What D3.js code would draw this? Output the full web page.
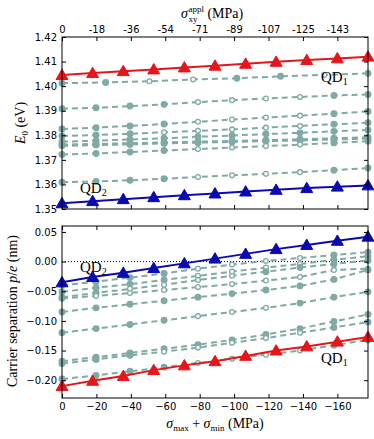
<!DOCTYPE html>
<html>
<head>
<meta charset="utf-8">
<script src="https://cdn.jsdelivr.net/npm/d3@7"></script>
<style>
  body { margin: 0; background: #fff; }
  svg text { font-family: "DejaVu Sans", sans-serif; }
  .math { font-family: "Liberation Serif", serif; }
</style>
</head>
<body>
<div id="chart"></div>
<script>
// stress sampling (MPa) for the different series lengths
const stress11 = [0, -17.8, -35.6, -53.3, -71.1, -88.9, -106.7, -124.4, -142.2, -160, -177.8];
const stress10 = [0, -19.8, -39.5, -59.3, -79, -98.8, -118.5, -138.3, -158, -177.8];
const stress8 = [0, -25.4, -50.8, -76.2, -101.6, -127, -152.4, -177.8];

// top axis: same positions as bottom ticks, relabelled as sigma_xy
const bottomTicks = [0, -20, -40, -60, -80, -100, -120, -140, -160];
const topTickLabels = ['0', '-18', '-36', '-54', '-71', '-89', '-107', '-125', '-143'];

// ground state energies (eV)
const qd1Energy = [1.4045, 1.4053, 1.4061, 1.4068, 1.4076, 1.4083, 1.4091, 1.4099, 1.4106, 1.4113, 1.4120];
const qd2Energy = [1.3523, 1.3532, 1.3540, 1.3548, 1.3556, 1.3563, 1.3571, 1.3578, 1.3585, 1.3591, 1.3596];

// other dots (grey, dashed)
const otherEnergy = [
  [1.4012, 1.4015, 1.4020, 1.4027, 1.4032, 1.4040, 1.4046, 1.4052],
  [1.3908, 1.3912, 1.3919, 1.3926, 1.3935, 1.3943, 1.3950, 1.3956, 1.3962, 1.3966],
  [1.3826, 1.3831, 1.3838, 1.3846, 1.3855, 1.3864, 1.3872, 1.3880, 1.3888, 1.3897],
  [1.3797, 1.3801, 1.3806, 1.3812, 1.3818, 1.3824, 1.3831, 1.3838, 1.3845, 1.3851],
  [1.3774, 1.3778, 1.3783, 1.3788, 1.3794, 1.3799, 1.3805, 1.3810, 1.3816, 1.3822],
  [1.3762, 1.3765, 1.3768, 1.3771, 1.3774, 1.3777, 1.3780, 1.3784, 1.3788, 1.3792],
  [1.3757, 1.3760, 1.3763, 1.3767, 1.3770, 1.3773, 1.3776, 1.3779, 1.3783, 1.3786],
  [1.3722, 1.3726, 1.3732, 1.3738, 1.3744, 1.3750, 1.3756, 1.3762, 1.3769, 1.3776],
  [1.3609, 1.3612, 1.3617, 1.3623, 1.3630, 1.3637, 1.3643, 1.3650, 1.3658, 1.3667]
];
const otherEnergyFill = ['FFOOFFOF', 'FFFFOOOOFF', 'FFFFOOOOFF', 'FFFOOOOOFF', 'FFFFFFFFFF',
  'FFFFFFFFFF', 'FFFFFFFFFF', 'FFFFOOOOFF', 'FFFFOOOOFF'];

// carrier separation p/e (nm)
const qd1Sep = [-0.210, -0.201, -0.193, -0.183, -0.175, -0.168, -0.159, -0.150, -0.143, -0.135, -0.127];
const qd2Sep = [-0.035, -0.026, -0.019, -0.011, -0.003, 0.005, 0.013, 0.021, 0.028, 0.035, 0.042];

const otherSep = [
  [-0.040, -0.034, -0.027, -0.020, -0.012, -0.005, 0.001, 0.006, 0.011, 0.016],
  [-0.051, -0.044, -0.038, -0.031, -0.024, -0.017, -0.010, -0.004, 0.003, 0.009],
  [-0.060, -0.053, -0.046, -0.039, -0.031, -0.024, -0.017, -0.010, -0.004, 0.002],
  [-0.062, -0.058, -0.053, -0.048, -0.043, -0.038, -0.032, -0.026, -0.014, -0.012],
  [-0.085, -0.078, -0.072, -0.066, -0.060, -0.054, -0.048, -0.041, -0.030, -0.014],
  [-0.120, -0.113, -0.106, -0.099, -0.092, -0.085, -0.078, -0.070, -0.060, -0.051],
  [-0.168, -0.161, -0.154, -0.147, -0.140, -0.132, -0.123, -0.113, -0.101, -0.089],
  [-0.172, -0.165, -0.158, -0.152, -0.145, -0.137, -0.129, -0.120, -0.111, -0.102],
  [-0.198, -0.192, -0.185, -0.178, -0.171, -0.164, -0.157, -0.150, -0.141, -0.132]
];
const otherSepFill = ['FFFFOOOOFF', 'FFFFOOOOFF', 'FFOOOOFFFF', 'FOOOOOOOOO', 'FFFFFFFFFF',
  'FFFFOOOFFF', 'FFFFFFFFFF', 'FFFOOOOOFF', 'FFFFOOOOFF'];

const stressFor = { 8: stress8, 10: stress10, 11: stress11 };

const w = 374;
const h = 439;
const left = 62, right = 368;
const topPanel = { top: 37, bottom: 209 };
const botPanel = { top: 226, bottom: 398 };

const red = '#e5161b';
const blue = '#0a0ab0';
const grey = '#80aaa6';

const svg = d3.select('#chart')
  .append('svg')
  .attr('width', w)
  .attr('height', h);

const xScale = d3.scaleLinear()
  .domain([0, -177.8])
  .range([left, right]);

const yTop = d3.scaleLinear()
  .domain([1.35, 1.42])
  .range([topPanel.bottom, topPanel.top]);

const yBot = d3.scaleLinear()
  .domain([-0.23, 0.06])
  .range([botPanel.bottom, botPanel.top]);

function drawFrame(panel, yScale, yTicks, yFormat, topLabels, bottomLabels) {
  const g = svg.append('g');

  const yAxis = d3.axisLeft(yScale).tickValues(yTicks).tickFormat(yFormat)
    .tickSize(-4).tickPadding(5);
  g.append('g').attr('transform', `translate(${left},0)`).call(yAxis);

  g.append('g').attr('transform', `translate(${right},0)`)
    .call(d3.axisRight(yScale).tickValues(yTicks).tickFormat('').tickSize(-4));

  const topAxis = d3.axisTop(xScale).tickValues(bottomTicks).tickSize(-4).tickPadding(4)
    .tickFormat((d, i) => topLabels ? topLabels[i] : '');
  g.append('g').attr('transform', `translate(0,${panel.top})`).call(topAxis);

  const botAxis = d3.axisBottom(xScale).tickValues(bottomTicks).tickSize(-4).tickPadding(5)
    .tickFormat(bottomLabels ? d3.format('d') : '');
  g.append('g').attr('transform', `translate(0,${panel.bottom})`).call(botAxis);

  g.selectAll('.domain').remove();
  g.selectAll('.tick line').attr('stroke', '#000').attr('stroke-width', 1);
  g.selectAll('.tick text').attr('font-size', 10).attr('fill', '#000')
    .style('font-family', '"DejaVu Sans", sans-serif');

  g.append('rect')
    .attr('x', left).attr('y', panel.top)
    .attr('width', right - left).attr('height', panel.bottom - panel.top)
    .attr('fill', 'none').attr('stroke', '#000').attr('stroke-width', 1);
}

function drawOthers(series, fills, yScale) {
  series.forEach((vals, i) => {
    const xs = stressFor[vals.length];
    const pts = vals.map((v, k) => ({ x: xs[k], y: v, f: fills[i][k] === 'F' }));
    const line = d3.line().x(d => xScale(d.x)).y(d => yScale(d.y));
    svg.append('path')
      .datum(pts)
      .attr('d', line)
      .attr('fill', 'none')
      .attr('stroke', grey)
      .attr('stroke-width', 2)
      .attr('stroke-dasharray', '6,4');
    svg.selectAll(null)
      .data(pts)
      .enter()
      .append('circle')
      .attr('cx', d => xScale(d.x))
      .attr('cy', d => yScale(d.y))
      .attr('r', d => d.f ? 2.8 : 2.4)
      .attr('fill', d => d.f ? grey : '#fff')
      .attr('stroke', grey)
      .attr('stroke-width', 1.3);
  });
}

function drawMain(vals, colour, yScale) {
  const pts = vals.map((v, k) => ({ x: stress11[k], y: v }));
  svg.append('path')
    .datum(pts)
    .attr('d', d3.line().x(d => xScale(d.x)).y(d => yScale(d.y)))
    .attr('fill', 'none')
    .attr('stroke', colour)
    .attr('stroke-width', 2);
  svg.selectAll(null)
    .data(pts)
    .enter()
    .append('path')
    .attr('d', d3.symbol(d3.symbolTriangle).size(62))
    .attr('transform', d => `translate(${xScale(d.x)},${yScale(d.y) + 1})`)
    .attr('fill', colour)
    .attr('stroke', colour)
    .attr('stroke-width', 1);
}

// ---- top panel ----
drawOthers(otherEnergy, otherEnergyFill, yTop);
drawMain(qd1Energy, red, yTop);
drawMain(qd2Energy, blue, yTop);

// ---- bottom panel ----
svg.append('line')
  .attr('x1', left).attr('x2', right)
  .attr('y1', yBot(0)).attr('y2', yBot(0))
  .attr('stroke', '#000').attr('stroke-width', 1)
  .attr('stroke-dasharray', '1,2');
drawOthers(otherSep, otherSepFill, yBot);
drawMain(qd1Sep, red, yBot);
drawMain(qd2Sep, blue, yBot);

drawFrame(topPanel, yTop, d3.range(1.35, 1.4201, 0.01), d3.format('.2f'), topTickLabels, false);
drawFrame(botPanel, yBot, [-0.20, -0.15, -0.10, -0.05, 0, 0.05], d3.format('.2f'), null, true);

// ---- labels ----
function qdLabel(x, y, sub) {
  const t = svg.append('text').attr('class', 'math').attr('x', x).attr('y', y)
    .attr('font-size', 15).attr('fill', '#000');
  t.append('tspan').text('QD');
  t.append('tspan').attr('font-size', 10).attr('dy', 3).text(sub);
}
qdLabel(321, 82, '1');
qdLabel(80, 193, '2');
qdLabel(80, 272, '2');
qdLabel(321, 363, '1');

// y label, top
const yl1 = svg.append('text').attr('class', 'math')
  .attr('transform', 'translate(25,123) rotate(-90)')
  .attr('text-anchor', 'middle').attr('font-size', 14);
yl1.append('tspan').attr('font-style', 'italic').text('E');
yl1.append('tspan').attr('font-size', 9).attr('dy', 3).text('0');
yl1.append('tspan').attr('dy', -3).text(' (eV)');

// y label, bottom
const yl2 = svg.append('text').attr('class', 'math')
  .attr('transform', 'translate(17,311) rotate(-90)')
  .attr('text-anchor', 'middle').attr('font-size', 14);
yl2.append('tspan').text('Carrier separation ');
yl2.append('tspan').attr('font-style', 'italic').text('p');
yl2.append('tspan').text('/');
yl2.append('tspan').attr('font-style', 'italic').text('e');
yl2.append('tspan').text(' (nm)');

// top title: sigma_xy^appl (MPa)
const sig = svg.append('text').attr('class', 'math').attr('x', 181).attr('y', 18)
  .attr('font-size', 14).attr('font-style', 'italic').text('σ');
const sw = sig.node().getComputedTextLength();
svg.append('text').attr('class', 'math').attr('x', 181 + sw + 0.5).attr('y', 22)
  .attr('font-size', 9).text('xy');
const sup = svg.append('text').attr('class', 'math').attr('x', 181 + sw + 0.5).attr('y', 12)
  .attr('font-size', 9).text('appl');
const supw = sup.node().getComputedTextLength();
svg.append('text').attr('class', 'math').attr('x', 181 + sw + supw + 4).attr('y', 18)
  .attr('font-size', 14).text('(MPa)');

// bottom x label: sigma_max + sigma_min (MPa)
const xl = svg.append('text').attr('class', 'math').attr('x', 215).attr('y', 428)
  .attr('text-anchor', 'middle').attr('font-size', 14);
xl.append('tspan').attr('font-style', 'italic').text('σ');
xl.append('tspan').attr('font-size', 9).attr('dy', 3).text('max');
xl.append('tspan').attr('dy', -3).text(' + ');
xl.append('tspan').attr('font-style', 'italic').text('σ');
xl.append('tspan').attr('font-size', 9).attr('dy', 3).text('min');
xl.append('tspan').attr('dy', -3).text(' (MPa)');
</script>
</body>
</html>
